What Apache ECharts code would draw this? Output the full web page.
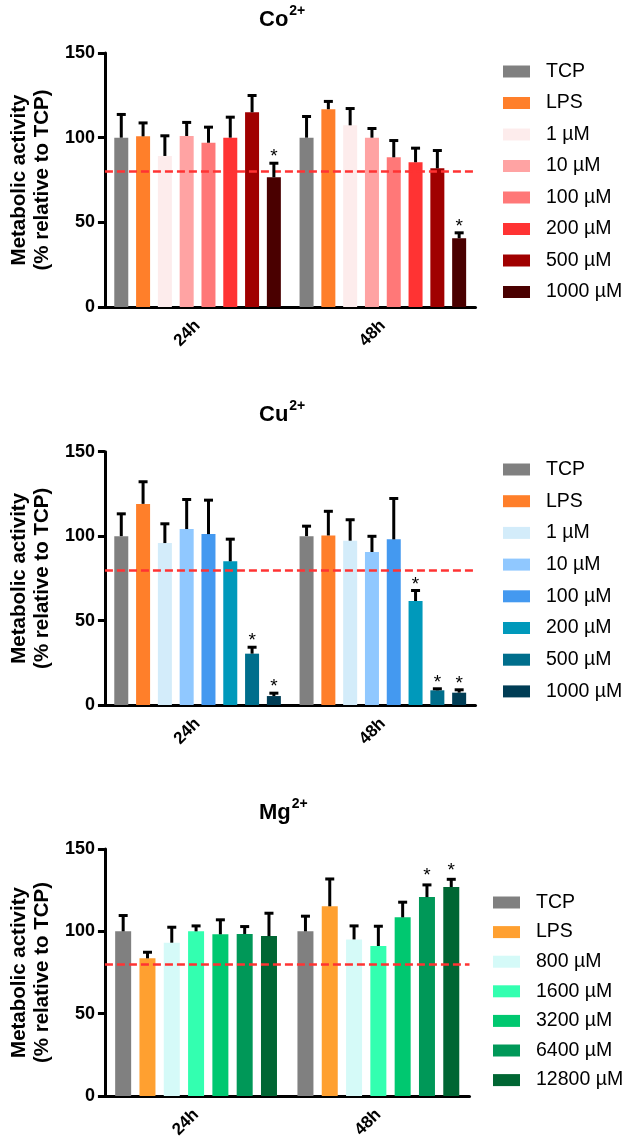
<!DOCTYPE html>
<html><head><meta charset="utf-8">
<script src="https://cdn.jsdelivr.net/npm/echarts@6/dist/echarts.min.js"></script>
<style>html,body{margin:0;padding:0;background:#fff}#c{width:629px;height:1142px}</style>
</head><body><div id="c"></div>
<script>
// ---------- data ----------
const categories = ['24h', '48h'];
const yTicks = [0, 50, 100, 150];
const threshold = 80;

const coNames = ['TCP', 'LPS', '1 µM', '10 µM', '100 µM', '200 µM', '500 µM', '1000 µM'];
const co24 = [100, 100.8, 89.2, 101, 97, 100, 115, 76.6];
const co24err = [14, 8.2, 12.2, 8.3, 9.5, 12.4, 10.2, 8.6];
const co48 = [100, 116.8, 107.3, 100, 88.4, 85.5, 81.9, 40.6];
const co48err = [12.8, 4.9, 10.2, 5.7, 10.2, 8.6, 10.8, 3.5];
const co24sig = [0, 0, 0, 0, 0, 0, 0, 1];
const co48sig = [0, 0, 0, 0, 0, 0, 0, 1];

const cuNames = ['TCP', 'LPS', '1 µM', '10 µM', '100 µM', '200 µM', '500 µM', '1000 µM'];
const cu24 = [100, 119.1, 95.9, 104.2, 101.2, 85.1, 30.4, 5.3];
const cu24err = [13.5, 13.4, 11.7, 17.8, 20.4, 13.4, 4.1, 2.0];
const cu48 = [100, 100.4, 97.3, 90.6, 98.1, 61.6, 8.7, 7.3];
const cu48err = [6.2, 14.6, 12.7, 9.6, 24.5, 6.5, 1.2, 2.0];
const cu24sig = [0, 0, 0, 0, 0, 0, 1, 1];
const cu48sig = [0, 0, 0, 0, 0, 1, 1, 1];

const mgNames = ['TCP', 'LPS', '800 µM', '1600 µM', '3200 µM', '6400 µM', '12800 µM'];
const mg24 = [100, 83.6, 93.1, 100, 98.2, 98.4, 97.1];
const mg24err = [9.9, 4.0, 9.7, 3.6, 9.1, 4.8, 14.2];
const mg48 = [100, 115.2, 95.1, 91.1, 108.5, 120.8, 126.9];
const mg48err = [9.5, 16.9, 8.5, 12.3, 9.5, 7.7, 5.0];
const mg24sig = [0, 0, 0, 0, 0, 0, 0];
const mg48sig = [0, 0, 0, 0, 0, 1, 1];

// ---------- styles ----------
const coColors = ['#808080', '#FF7F2A', '#FDECEC', '#FFA3A3', '#FF7878', '#FF3333', '#A00000', '#4A0000'];
const cuColors = ['#808080', '#FF7F2A', '#D3ECFA', '#90C8FF', '#4499F0', '#0099BB', '#006E8C', '#003D55'];
const mgColors = ['#808080', '#FFA030', '#D5FAF8', '#33FFB0', '#00C870', '#009858', '#006633'];

const FONT = 'Liberation Sans, Arial, Helvetica, sans-serif';

const panels = [
  { key: 'Co', title: 'Co', names: coNames, colors: coColors, m: [co24, co48], e: [co24err, co48err], s: [co24sig, co48sig],
    grid: { left: 97.5, top: 53, width: 378, height: 254 }, bw: 14, gap: 7.8,
    legend: { left: 503, top: 61.5, itemGap: 11.5 }, titleTop: 4, starOff: 4 },
  { key: 'Cu', title: 'Cu', names: cuNames, colors: cuColors, m: [cu24, cu48], e: [cu24err, cu48err], s: [cu24sig, cu48sig],
    grid: { left: 97.5, top: 451.7, width: 378, height: 253.3 }, bw: 14, gap: 7.8,
    legend: { left: 503, top: 459.5, itemGap: 11.7 }, titleTop: 399, starOff: 4 },
  { key: 'Mg', title: 'Mg', names: mgNames, colors: mgColors, m: [mg24, mg48], e: [mg24err, mg48err], s: [mg24sig, mg48sig],
    grid: { left: 99.5, top: 849, width: 370, height: 247 }, bw: 16, gap: 8.3,
    legend: { left: 493, top: 892.5, itemGap: 9.6 }, titleTop: 797, starOff: 1 }
];

const grids = [], xAxes = [], yAxes = [], series = [], legends = [], titles = [];

panels.forEach((p, pi) => {
  grids.push(Object.assign({ containLabel: false }, p.grid));
  xAxes.push({
    type: 'category', gridIndex: pi, data: categories,
    axisLine: { lineStyle: { color: '#000', width: 3 } },
    axisTick: { alignWithLabel: true, length: 7, lineStyle: { color: '#000', width: 3 } },
    axisLabel: { rotate: 45, margin: 16, fontSize: 17, fontWeight: 'bold', color: '#000', fontFamily: FONT },
    splitLine: { show: false }
  });
  yAxes.push({
    type: 'value', gridIndex: pi, min: yTicks[0], max: yTicks[yTicks.length - 1], interval: yTicks[1] - yTicks[0],
    name: 'Metabolic activity\n(% relative to TCP)', nameLocation: 'middle', nameGap: 47, nameRotate: 90,
    nameTextStyle: { fontSize: 20.5, fontWeight: 'bold', color: '#000', fontFamily: FONT, lineHeight: 23 },
    axisLine: { show: true, lineStyle: { color: '#000', width: 3 } },
    axisTick: { show: true, length: 7, lineStyle: { color: '#000', width: 3 } },
    axisLabel: { margin: 10, fontSize: 18, fontWeight: 'bold', color: '#000', fontFamily: FONT },
    splitLine: { show: false }
  });
  const n = p.names.length;
  const pct = (p.gap / p.bw * 100).toFixed(1) + '%';
  p.names.forEach((nm, i) => {
    const s = {
      type: 'bar', name: p.key + '|' + nm, xAxisIndex: pi, yAxisIndex: pi,
      data: [p.m[0][i], p.m[1][i]], barWidth: p.bw, barGap: pct,
      itemStyle: { color: p.colors[i] }, animation: false, silent: true
    };
    if (i === 0) {
      s.markLine = {
        silent: true, symbol: 'none', label: { show: false }, animation: false,
        lineStyle: { color: '#FF3333', type: [8, 4], width: 2.5 },
        data: [{ yAxis: threshold }]
      };
    }
    series.push(s);
  });
  const errData = [];
  for (let c = 0; c < 2; c++) {
    for (let i = 0; i < n; i++) errData.push([c, i, p.m[c][i], p.e[c][i], p.s[c][i]]);
  }
  const bw = p.bw, gap = p.gap, starOff = p.starOff;
  series.push({
    type: 'custom', xAxisIndex: pi, yAxisIndex: pi, z: 10, silent: true, animation: false,
    encode: { x: 0, y: 2 },
    data: errData,
    renderItem: function (params, api) {
      const c = api.value(0), k = api.value(1), v = api.value(2), e = api.value(3), sig = api.value(4);
      const base = api.coord([c, v]);
      const top = api.coord([c, v + e]);
      const x = base[0] + (k - (n - 1) / 2) * (bw + gap);
      const children = [
        { type: 'line', shape: { x1: x, y1: base[1], x2: x, y2: top[1] }, style: { stroke: '#000', lineWidth: 3 } },
        { type: 'line', shape: { x1: x - 4.5, y1: top[1] + 0.5, x2: x + 4.5, y2: top[1] + 0.5 }, style: { stroke: '#000', lineWidth: 3 } }
      ];
      if (sig) {
        children.push({ type: 'text', style: { text: '*', x: x, y: top[1] + starOff, align: 'center', verticalAlign: 'bottom',
          fontSize: 19, fontFamily: FONT, fill: '#000' } });
      }
      return { type: 'group', children: children };
    }
  });
  legends.push({
    orient: 'vertical', left: p.legend.left, top: p.legend.top, itemGap: p.legend.itemGap, padding: 0,
    itemWidth: 27, itemHeight: 12, icon: 'rect', selectedMode: false,
    data: p.names.map(nm => p.key + '|' + nm),
    formatter: name => name.split('|')[1],
    textStyle: { fontSize: 19.5, color: '#000', fontFamily: FONT, lineHeight: 19.5, padding: [0, 0, 0, 11] }
  });
  titles.push({
    text: '{a|' + p.title + '}{b|2+}', left: 259, top: p.titleTop, padding: 0,
    textStyle: {
      rich: {
        a: { fontSize: 22, fontWeight: 'bold', color: '#000', fontFamily: FONT, lineHeight: 27, verticalAlign: 'bottom' },
        b: { fontSize: 14, fontWeight: 'bold', color: '#000', fontFamily: FONT, lineHeight: 27, verticalAlign: 'top', padding: [0, 0, 0, 1] }
      }
    }
  });
});

const chart = echarts.init(document.getElementById('c'), null, { renderer: 'canvas' });
chart.setOption({
  backgroundColor: '#fff', animation: false,
  title: titles, grid: grids, xAxis: xAxes, yAxis: yAxes, legend: legends, series: series
});
</script>
</body></html>
